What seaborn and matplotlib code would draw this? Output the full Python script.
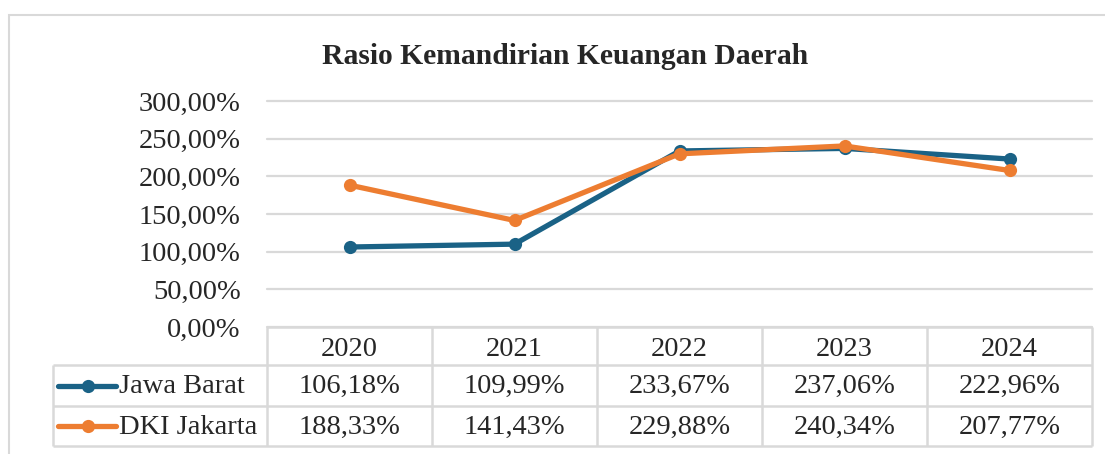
import matplotlib
matplotlib.use('Agg')
import pandas as pd
import matplotlib.pyplot as plt
from matplotlib.patches import Rectangle
import seaborn as sns

# Data
years = ['2020', '2021', '2022', '2023', '2024']
jawa_barat = [106.18, 109.99, 233.67, 237.06, 222.96]
dki_jakarta = [188.33, 141.43, 229.88, 240.34, 207.77]
series_names = ['Jawa Barat', 'DKI Jakarta']
y_ticks = [0, 50, 100, 150, 200, 250, 300]
title = 'Rasio Kemandirian Keuangan Daerah'

colors = ['#1A6286', '#ED7D31']
grid_color = '#D9D9D9'

sns.set_style('white')
plt.rcParams['font.family'] = ['Liberation Serif', 'DejaVu Serif']


def pct(v):
    return f'{v:.2f}%'.replace('.', ',')


W, H = 1105, 454
fig = plt.figure(figsize=(W / 100, H / 100), dpi=100)


def box(l, t, r, b):
    return [l / W, 1 - b / H, (r - l) / W, (b - t) / H]


# main plot
ax = fig.add_axes(box(267, 101, 1092, 327))
df = pd.DataFrame({
    'x': list(range(len(years))) * 2,
    'value': jawa_barat + dki_jakarta,
    'series': [series_names[0]] * len(years) + [series_names[1]] * len(years),
})
sns.lineplot(data=df, x='x', y='value', hue='series', hue_order=series_names,
             palette=colors, marker='o', markersize=9.5, markeredgewidth=0,
             linewidth=3.8, legend=False, ax=ax, zorder=3)
ax.set_xlim(-0.5, len(years) - 0.5)
ax.set_ylim(0, 300)
ax.set_yticks(y_ticks)
ax.set_yticklabels([pct(t) for t in y_ticks], fontsize=20.5)
ax.set_xticks([])
ax.set_xlabel('')
ax.set_ylabel('')
ax.tick_params(axis='y', length=0, pad=19)
ax.get_yticklabels()[0].set_y(4)
for t in y_ticks:
    ax.axhline(t, color=grid_color, lw=1.6, zorder=1, clip_on=False)
sns.despine(ax=ax, left=True, bottom=True)

# data table under the chart
col_w = 165
tax = fig.add_axes(box(53, 327, 1092, 446))
tax.set_xlim(-0.5 - (267 - 53) / col_w, len(years) - 0.5)
tax.set_ylim(446, 327)
tax.axis('off')


def px(p):
    return -0.5 + (p - 267) / col_w


x_left = px(53)
x_right = len(years) - 0.5
row_edges = [327, 365, 406, 446]
kw = dict(color=grid_color, lw=1.8, clip_on=False)
tax.hlines(row_edges[1:], x_left, x_right, **kw)
tax.hlines(row_edges[0], -0.5, x_right, **kw)
for i in range(len(years) + 1):
    tax.vlines(i - 0.5, row_edges[0], row_edges[-1], **kw)
tax.vlines(x_left, row_edges[1], row_edges[-1], **kw)

for i, y in enumerate(years):
    tax.text(i, (row_edges[0] + row_edges[1]) / 2 + 3, y, ha='center', va='center', fontsize=20.5)

for r, (name, vals) in enumerate(zip(series_names, [jawa_barat, dki_jakarta])):
    yc = (row_edges[r + 1] + row_edges[r + 2]) / 2 + 1
    tax.plot([px(58), px(116)], [yc - 1, yc - 1], color=colors[r], lw=3.8, clip_on=False)
    tax.plot([px(88)], [yc - 1], marker='o', ms=9.5, mew=0, color=colors[r], clip_on=False)
    tax.text(px(119), yc, name, ha='left', va='center', fontsize=20.5)
    for i, v in enumerate(vals):
        tax.text(i, yc, pct(v), ha='center', va='center', fontsize=20.5)

# title and chart border
fig.text(565 / W, 1 - 57 / H, title, ha='center', va='center', fontsize=21.3, fontweight='bold')
fig.add_artist(Rectangle((9 / W, -0.1), 1.2, (H - 15) / H + 0.1, transform=fig.transFigure,
                         fill=False, ec=grid_color, lw=1.5))

fig.savefig('out.png', dpi=100)
